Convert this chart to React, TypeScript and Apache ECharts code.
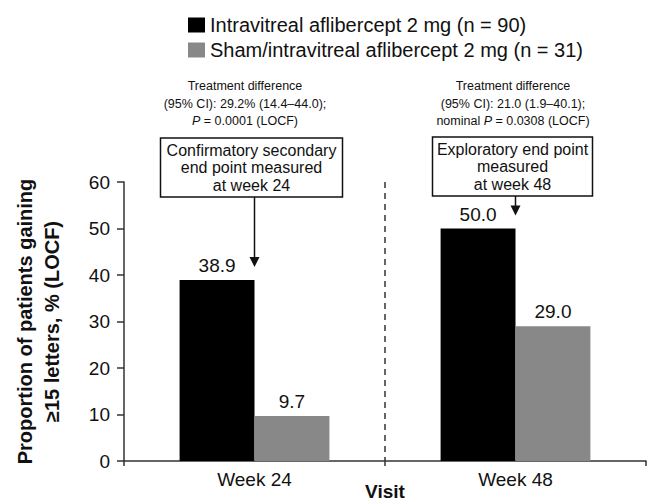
import React, { useEffect, useRef } from "react";
import * as echarts from "echarts";

const categories = ["Week 24", "Week 48"];
const seriesNames = [
  "Intravitreal aflibercept 2 mg (n = 90)",
  "Sham/intravitreal aflibercept 2 mg (n = 31)",
];
const afliberceptValues = [38.9, 50.0];
const shamValues = [9.7, 29.0];
const yTicks = { min: 0, max: 60, interval: 10 };
const treatmentTexts = [
  ["Treatment difference", "(95% CI): 29.2% (14.4\u201344.0);", ["", "P", " = 0.0001 (LOCF)"]],
  ["Treatment difference", "(95% CI): 21.0 (1.9\u201340.1);", ["nominal ", "P", " = 0.0308 (LOCF)"]],
];
const boxTexts = [
  "Confirmatory secondary\nend point measured\nat week 24",
  "Exploratory end point\nmeasured\nat week 48",
];

const FONT = "'Liberation Sans', Arial, Helvetica, sans-serif";

export default function App() {
  const ref = useRef<HTMLDivElement>(null);
  useEffect(() => {
    if (!ref.current) return;
    const chart = echarts.init(ref.current, undefined, { renderer: "svg" });
    const labelFmt = (p: any) => Number(p.value).toFixed(1);
    chart.setOption({
      animation: false,
      textStyle: { fontFamily: FONT },
      legend: {
        orient: "vertical",
        left: 183,
        top: 10,
        itemWidth: 17,
        itemHeight: 15,
        itemGap: 5,
        icon: "rect",
        textStyle: { fontSize: 20, color: "#111", lineHeight: 19, fontFamily: FONT },
        data: seriesNames,
      },
      grid: { left: 124, right: 1, top: 182, bottom: 40, containLabel: false, outerBoundsMode: "none" },
      xAxis: {
        type: "category",
        data: categories,
        boundaryGap: true,
        axisLine: { lineStyle: { color: "#333", width: 1.5 } },
        axisTick: { show: true, length: 5, lineStyle: { color: "#333", width: 1.5 } },
        axisLabel: { fontSize: 19, color: "#111", margin: 9, fontFamily: FONT },
        name: "Visit",
        nameLocation: "middle",
        nameGap: 30,
        nameMoveOverlap: false,
        nameTextStyle: { fontSize: 19, lineHeight: 18, fontWeight: "bold", color: "#111", fontFamily: FONT, verticalAlign: "middle" },
        splitLine: { show: false },
      },
      yAxis: {
        type: "value",
        min: yTicks.min,
        max: yTicks.max,
        interval: yTicks.interval,
        axisLine: { show: true, lineStyle: { color: "#333", width: 1.5 } },
        axisTick: { show: true, length: 7, lineStyle: { color: "#333", width: 1.5 } },
        axisLabel: { fontSize: 19, color: "#111", margin: 14, fontFamily: FONT },
        splitLine: { show: false },
        name: "Proportion of patients gaining\n\u226515 letters, % (LOCF)",
        nameLocation: "middle",
        nameRotate: 90,
        nameGap: 59,
        nameMoveOverlap: false,
        nameTextStyle: { fontSize: 20, fontWeight: "bold", color: "#111", lineHeight: 27, fontFamily: FONT },
      },
      series: [
        {
          name: seriesNames[0],
          type: "bar",
          data: afliberceptValues,
          barWidth: "28.7%",
          barGap: "0%",
          itemStyle: { color: "#000" },
          label: { show: true, position: "top", distance: 5, fontSize: 19, color: "#111", formatter: labelFmt, fontFamily: FONT },
        },
        {
          name: seriesNames[1],
          type: "bar",
          data: shamValues,
          barWidth: "28.7%",
          itemStyle: { color: "#888888" },
          label: { show: true, position: "top", distance: 5, fontSize: 19, color: "#111", formatter: labelFmt, fontFamily: FONT },
        },
      ],
    });

    // annotations derived from axis scale
    const graphics: any[] = [];
    const boxes = [
      { cx: 251.5, w: 182, top: 138, bottom: 197 },
      { cx: 512.5, w: 160, top: 137, bottom: 196 },
    ];
    const textCenters = [245, 513];
    const richBase = { fontSize: 12.5, fontFamily: FONT, fill: "#111", lineHeight: 17.5 };
    const p0 = chart.convertToPixel({ gridIndex: 0 } as any, [0, yTicks.min]) as number[];
    const p1 = chart.convertToPixel({ gridIndex: 0 } as any, [1, yTicks.max]) as number[];
    const sepX = (p0[0] + p1[0]) / 2;
    graphics.push({
      type: "line",
      shape: { x1: sepX, y1: p1[1], x2: sepX, y2: p0[1] },
      style: { stroke: "#333", lineWidth: 1.5, lineDash: [6, 5] },
    });
    categories.forEach((_, i) => {
      const center = chart.convertToPixel({ gridIndex: 0 } as any, [i, afliberceptValues[i]]) as number[];
      const ax = center[0];
      const tipY = center[1] - 13;
      const b = boxes[i];
      const t = treatmentTexts[i] as any[];
      const line3 = t[2] as string[];
      graphics.push({
        type: "text",
        x: textCenters[i],
        y: 103.5,
        style: {
          text: `{a|${t[0]}}\n{a|${t[1]}}\n{a|${line3[0]}}{i|${line3[1]}}{a|${line3[2]}}`,
          align: "center",
          verticalAlign: "middle",
          rich: {
            a: { ...richBase },
            i: { ...richBase, fontStyle: "italic" },
          },
        },
      });
      graphics.push({
        type: "rect",
        shape: { x: b.cx - b.w / 2, y: b.top, width: b.w, height: b.bottom - b.top },
        style: { fill: "#fff", stroke: "#111", lineWidth: 1.5 },
      });
      graphics.push({
        type: "text",
        x: b.cx,
        y: (b.top + b.bottom) / 2,
        style: {
          text: boxTexts[i],
          align: "center",
          verticalAlign: "middle",
          fontSize: 16,
          lineHeight: 17.5,
          fontFamily: FONT,
          fill: "#111",
        },
      });
      graphics.push({
        type: "line",
        shape: { x1: ax, y1: b.bottom, x2: ax, y2: tipY - 6 },
        style: { stroke: "#111", lineWidth: 1.5 },
      });
      graphics.push({
        type: "polygon",
        shape: { points: [[ax - 5, tipY - 10], [ax + 5, tipY - 10], [ax, tipY]] },
        style: { fill: "#111" },
      });
    });
    chart.setOption({ graphic: graphics });
    return () => chart.dispose();
  }, []);
  return <div ref={ref} style={{ width: 647, height: 501, position: "absolute", left: 0, top: 0, background: "#fff" }} />;
}
